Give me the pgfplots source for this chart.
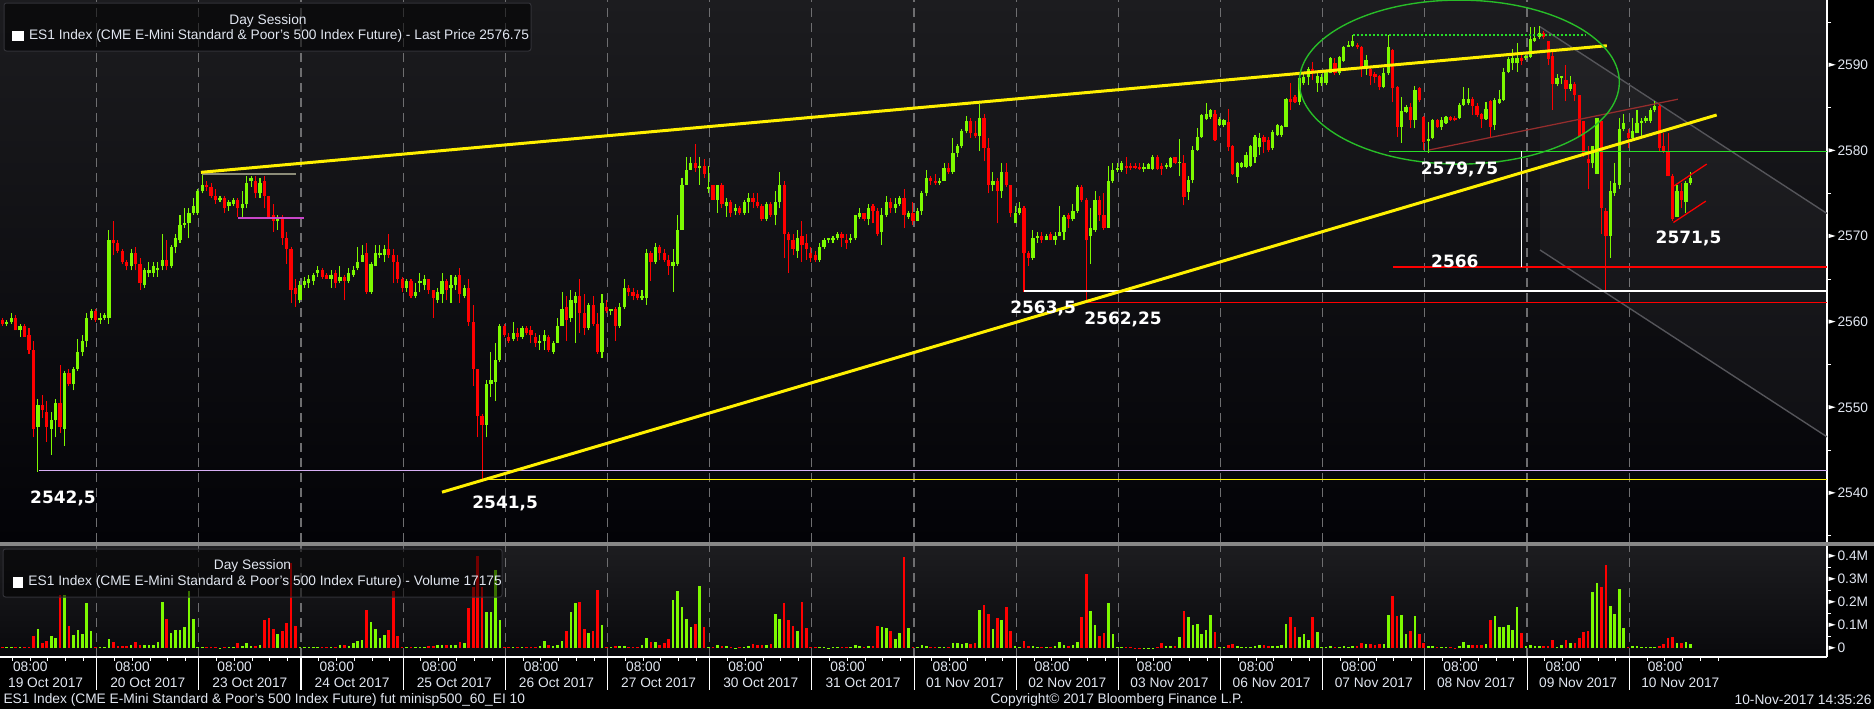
\documentclass[border=0pt]{standalone}
\usepackage{fontspec}
\setmainfont{Liberation Sans}
\newfontfamily\lblfont{DejaVu Sans}
\usepackage{pgfplots}
\usepackage{pgfplotstable}
\pgfplotsset{compat=1.18}
\definecolor{cgreen}{RGB}{125,250,0}
\definecolor{cred}{RGB}{255,0,0}
\definecolor{bgtop}{RGB}{28,28,31}
\definecolor{bgbot}{RGB}{3,3,7}
\definecolor{vbgtop}{RGB}{29,29,32}
\definecolor{vbgbot}{RGB}{9,9,12}
\definecolor{gridgray}{RGB}{110,110,112}
\definecolor{lbl}{RGB}{225,230,240}
\definecolor{yel}{RGB}{255,240,0}
\definecolor{lav}{RGB}{215,175,245}
\definecolor{lgreen}{RGB}{40,220,40}
\definecolor{egreen}{RGB}{40,190,40}
\definecolor{chgray}{RGB}{85,85,90}
\definecolor{dred}{RGB}{150,45,45}
\definecolor{olive}{RGB}{140,140,120}
\definecolor{mag}{RGB}{200,70,200}
\definecolor{sepgray}{RGB}{135,135,135}
\definecolor{legborder}{RGB}{50,50,56}
\newcommand\sz{\fontsize{5.5}{6.4}\selectfont}
\newcommand\tri{\tikz[baseline=-0.36em]\fill[white] (0pt,-0.85pt)--(2.8pt,0pt)--(0pt,0.85pt)--cycle;\kern0.8pt}
\newcommand\blab[1]{{\lblfont\bfseries\fontsize{6.8}{8}\selectfont #1}}

\pgfplotstableread{
j o h l c v
1 2560.25 2560.5 2559.5 2559.75 4
2 2559.75 2560.25 2559.5 2560 3
3 2560 2561 2559.75 2560.5 4
4 2560.5 2560.75 2559 2559 4
5 2559 2559.75 2558.25 2559.5 4
6 2559.5 2559.75 2558.25 2558.25 6
7 2558.5 2559.25 2556.25 2556.75 6
8 2556.75 2557.75 2546.5 2547.5 51
9 2547.75 2551 2542.5 2550.25 81
10 2550.25 2551.5 2548.75 2549.75 22
11 2549.5 2550.75 2546 2547.75 29
12 2547.5 2549.5 2544.5 2548.5 51
13 2548.5 2551 2546.5 2550.5 42
14 2550.5 2555 2547 2547.75 232
15 2547.5 2554.25 2545.5 2554 229
16 2554 2554.5 2552.5 2552.75 94
17 2552.75 2554.75 2552 2554.5 55
18 2554.5 2558 2554.25 2556.5 77
19 2556.5 2558.5 2556 2557.75 61
20 2557.75 2561 2557 2560.5 194
21 2560.5 2561.5 2560.25 2561.25 72
22 2561.25 2561.5 2560 2560.25 3
23 2560.25 2561 2559.75 2560.5 3
24 2560.5 2561 2560.25 2560.75 3
25 2560.5 2570.75 2559.75 2569.5 38
26 2569.5 2571.75 2567.75 2569.25 25
27 2569.25 2569.5 2568 2568.25 7
28 2568.25 2568.5 2566.75 2567 7
29 2567 2567.25 2566 2566.5 7
30 2566.5 2568.5 2566 2568 12
31 2568 2568.75 2566 2566.75 25
32 2566.75 2567.5 2563.75 2564.5 15
33 2564.25 2566.25 2564 2566 12
34 2565.75 2567 2565.25 2566 12
35 2565.75 2567 2565.25 2566.5 12
36 2566 2567 2565.25 2566.25 25
37 2566.5 2570.25 2566 2567.25 199
38 2567.25 2569.5 2566 2566.5 125
39 2566.5 2569 2566.25 2568.75 64
40 2568.75 2570.25 2568 2569.75 77
41 2569.5 2572.5 2569.25 2571.25 77
42 2571.25 2573.25 2571 2571.5 90
43 2571.5 2573.25 2569.75 2572.75 246
44 2572.75 2574.5 2572.5 2573.5 125
45 2572.75 2575.5 2572.5 2575.25 5
46 2575.25 2577.5 2575 2576 4
47 2576 2576.5 2575.25 2575.75 6
48 2575.75 2576.25 2574.5 2574.75 6
49 2574.75 2575.5 2573.75 2574.25 3
50 2574.25 2574.75 2574 2574.5 2
51 2574.5 2574.75 2572.75 2573.25 3
52 2573.5 2574.25 2573 2574 3
53 2573.75 2574.5 2573.5 2574.25 3
54 2574.25 2574.5 2572.25 2573.25 20
55 2573.25 2575.25 2572.25 2573.75 10
56 2573.75 2577 2573.25 2576.25 20
57 2576.5 2577 2575.75 2576.75 7
58 2576.5 2577 2574.5 2575 10
59 2575 2576.75 2574.5 2576.25 12
60 2576.5 2577 2573.25 2574.75 120
61 2574.75 2574.75 2572.25 2572.25 129
62 2572.5 2573.75 2570.5 2571.75 84
63 2571.75 2572.5 2570.75 2572 59
64 2572.25 2572.5 2569 2569.75 75
65 2569.75 2570.5 2566.75 2568.5 107
66 2568.5 2568.75 2562.25 2563.75 368
67 2564 2565 2561.75 2563.25 94
68 2562.5 2564.75 2562.25 2564.25 3
69 2564.25 2565.25 2564 2564.75 6
70 2564.5 2565.5 2564 2565 6
71 2564.75 2565.75 2564.25 2565.5 3
72 2565.75 2566.5 2565.25 2566 3
73 2566 2566.25 2565 2565.25 3
74 2565.5 2565.75 2565 2565 3
75 2565 2566 2564 2565.5 6
76 2565.75 2566 2564 2564.5 6
77 2564.75 2566.5 2564.5 2565.25 15
78 2565.25 2565.5 2562.5 2564.75 15
79 2564.75 2566.25 2564.5 2565.75 10
80 2565.5 2566.5 2565.25 2566 20
81 2566.25 2568.75 2566 2567 29
82 2567 2569 2567 2567.75 33
83 2568 2569.25 2563.25 2563.5 167
84 2563.5 2567 2563.25 2566.75 113
85 2566.5 2569 2566.5 2568 84
86 2567.75 2569 2567.5 2568 42
87 2567.75 2569 2567 2568.5 55
88 2568.5 2570.25 2567.5 2567.75 77
89 2567.75 2568.5 2564.5 2567 249
90 2567 2567.75 2564.5 2565 54
91 2565 2565.25 2563.5 2564 3
92 2564 2565 2563.5 2564.75 3
93 2564.75 2565 2562.75 2563 3
94 2563 2564.5 2562.75 2563.5 4
95 2564.5 2565.75 2563.5 2564.75 3
96 2564.25 2565.5 2563.75 2565 3
97 2565 2565 2563.25 2563.75 9
98 2563.75 2563.75 2560.5 2562.75 9
99 2562.5 2564 2562.25 2563.5 15
100 2563.25 2565.75 2562.25 2564.75 15
101 2564.75 2565 2562.5 2563.75 15
102 2564 2565.5 2562.25 2564.25 15
103 2564.25 2565.5 2563.75 2565.25 15
104 2565.5 2566.25 2562.25 2563.25 25
105 2563 2564.25 2562.75 2564 20
106 2564 2565 2559.5 2560 174
107 2560 2562 2552.5 2554.5 267
108 2554.5 2554.5 2546.5 2549 400
109 2549 2549.25 2541.5 2548 267
110 2548 2553.25 2546.5 2552.75 158
111 2552.75 2556.5 2551.25 2553.25 158
112 2553 2557.5 2550.75 2555.5 340
113 2555.5 2559.75 2555.25 2559.5 120
114 2559.5 2559.75 2558.25 2558.5 3
115 2558.25 2558.75 2557.5 2557.75 3
116 2558 2560 2557.75 2558.75 3
117 2558.75 2559.25 2557.75 2558.25 3
118 2558.25 2559.5 2558 2559.25 3
119 2559.25 2559.5 2558.5 2558.75 3
120 2559 2559.5 2557.5 2558.5 3
121 2558.25 2558.75 2557 2557.5 3
122 2557.5 2558.5 2556.75 2557.75 7
123 2557.75 2559 2556.75 2558.5 29
124 2558.25 2558.5 2556.5 2556.75 12
125 2556.5 2557.75 2556.25 2557.5 7
126 2557.5 2560.5 2557.5 2559.5 12
127 2559.5 2563.5 2559.5 2561.5 29
128 2561.75 2563 2557.75 2560.25 72
129 2560.5 2563.75 2560 2562.5 155
130 2562.25 2563.5 2557.5 2563 194
131 2563 2565 2558.75 2561 199
132 2561 2563.25 2558.5 2559.25 84
133 2559.25 2562.25 2559 2562 64
134 2562 2563 2559.5 2559.75 72
135 2559.75 2561 2556.25 2556.5 251
136 2556.5 2563.25 2555.75 2562.25 101
137 2561.75 2562.5 2561 2561.25 3
138 2561.25 2561.5 2560.75 2561.5 3
139 2561.5 2561.75 2557.75 2559.5 7
140 2559.5 2562.25 2559.25 2561.75 7
141 2561.75 2565 2561.5 2564 7
142 2564 2564.25 2563 2563.5 3
143 2563.5 2564 2562.5 2563 3
144 2563.25 2563.75 2562.5 2562.75 3
145 2562.75 2563.75 2562.5 2563 12
146 2562.75 2568.5 2562 2568 42
147 2568 2568.25 2564.75 2567 25
148 2567 2569.25 2566.75 2568.75 25
149 2568.75 2569 2567.25 2568 12
150 2568 2568.5 2567 2567.25 20
151 2567.25 2567.75 2565.5 2566.5 38
152 2566.5 2568.5 2563.5 2567 207
153 2566.75 2572.5 2566.5 2570.75 246
154 2570.75 2576.75 2570.75 2576 177
155 2576 2579.25 2576 2577.75 125
156 2577.75 2579.25 2577.75 2578.5 90
157 2578.5 2580.75 2577.5 2578 103
158 2578 2579.25 2576 2578.25 268
159 2578.25 2579 2576.75 2577.25 90
160 2575.5 2578.25 2575 2575.75 6
161 2576 2576 2574.25 2574.25 3
162 2574.25 2576 2572.75 2576 12
163 2576 2576.25 2573.25 2573.75 7
164 2573.5 2574.5 2572.25 2574 7
165 2574 2574.25 2572.25 2572.75 3
166 2573 2573.75 2572.5 2573.25 2
167 2573.25 2573.5 2572.5 2572.75 3
168 2572.75 2574.25 2572.5 2574 3
169 2574 2575 2572.75 2574.5 7
170 2574.5 2575 2573.25 2574 16
171 2574 2575 2573.25 2573.5 12
172 2573.5 2573.75 2571.75 2572 12
173 2572 2574 2571.75 2573.75 12
174 2573.75 2574 2572.25 2572.5 16
175 2572.5 2575.25 2571.25 2574 146
176 2574 2577.5 2573.25 2576 125
177 2576 2576.5 2567.5 2570.25 194
178 2570.25 2570.5 2565.75 2569.5 120
179 2569.5 2570.25 2567.75 2568.5 94
180 2568.25 2570.75 2567.5 2569.75 72
181 2570 2571.75 2567 2569 199
182 2569.25 2570.25 2567.25 2568.5 86
183 2568 2568.75 2567 2567.5 3
184 2567.75 2568.25 2567 2567.25 3
185 2567.25 2569.25 2567 2568.75 3
186 2568.75 2569.75 2568.5 2569.5 3
187 2569.5 2569.75 2569.25 2569.75 2
188 2569.5 2570 2569.25 2569.75 3
189 2569.75 2570.5 2569.5 2570.25 3
190 2570.25 2570.5 2568.75 2569.75 3
191 2569.5 2570.25 2568.5 2569.25 3
192 2569.5 2570.25 2569.25 2569.75 3
193 2569.75 2572.5 2569.5 2572.5 12
194 2572.25 2573.25 2572 2572.75 7
195 2572.75 2572.75 2571.75 2572 3
196 2572 2573.75 2571.25 2573.25 7
197 2573.5 2573.75 2571.5 2573 7
198 2573 2573.25 2570 2570.25 94
199 2570.5 2573.25 2569 2572.5 90
200 2572.5 2574.75 2572.25 2574 86
201 2574 2574.5 2572.75 2573.25 72
202 2573.25 2574.5 2572.75 2573.75 38
203 2573.75 2574.75 2573.5 2574.5 64
204 2574.5 2575.5 2571 2572.5 394
205 2572.25 2573 2572 2572.75 86
206 2572.75 2574 2571.25 2571.75 6
207 2571.75 2573.25 2571.75 2573 3
208 2573 2575.25 2572.5 2575 12
209 2575 2577.75 2574.75 2576.75 7
210 2576.75 2577 2576 2576.5 3
211 2576.5 2577.25 2576 2576.25 3
212 2576.25 2576.75 2576 2576.5 3
213 2576.5 2578.5 2576.5 2578 3
214 2578 2578.5 2577.25 2577.5 3
215 2577.5 2581.5 2577.25 2579.75 20
216 2579.75 2580.75 2579.25 2580.5 20
217 2580.5 2582.5 2580.25 2582.25 16
218 2582.25 2584 2582 2583.5 20
219 2583.5 2583.75 2581.5 2582 16
220 2582 2583.5 2581.5 2581.75 20
221 2581.75 2585.5 2580 2583.75 164
222 2583.75 2584.25 2578.75 2580.25 186
223 2580.25 2581.5 2575 2576 146
224 2576 2577.5 2575.25 2576.5 81
225 2576.5 2576.75 2571.5 2575.25 129
226 2575.25 2578.5 2574.5 2577.5 120
227 2577.5 2578.5 2575.75 2576 177
228 2576 2576 2572.25 2572.75 72
229 2571.5 2573.5 2571.5 2572.75 7
230 2572.75 2574 2572.5 2573.25 3
231 2573.25 2573.5 2563.5 2568 29
232 2568 2568.25 2566.5 2567.5 7
233 2567.5 2570.75 2567.25 2569.75 7
234 2569.75 2570.5 2569.25 2570 3
235 2570 2570.5 2569.25 2569.5 3
236 2569.5 2570.25 2569.5 2570 3
237 2570.25 2570.5 2569.5 2569.5 3
238 2569.5 2570.5 2569 2570 7
239 2570 2573.5 2570 2570.5 25
240 2570.5 2572.5 2569.5 2572.25 12
241 2572.5 2572.75 2571 2572 7
242 2572 2573.75 2571.75 2573 12
243 2573 2576 2572.75 2575.75 25
244 2575.75 2576 2574 2574.25 133
245 2574.25 2574.5 2562.25 2569.5 320
246 2570 2573.25 2566.75 2571 160
247 2570.75 2575.25 2570.5 2574.25 99
248 2574.25 2574.75 2571.75 2572.5 51
249 2572.5 2575 2570.75 2571 64
250 2571 2578.25 2571 2576.5 194
251 2576.5 2578.5 2576.25 2577.75 59
252 2577.75 2578.5 2577.5 2578 3
253 2577.75 2578.75 2577.5 2578.5 3
254 2578.25 2579.25 2577.25 2578 3
255 2578.25 2578.5 2577.75 2578 3
256 2578.25 2578.5 2577.9 2578 2
257 2578 2578.5 2577.75 2577.9 2
258 2577.9 2578.5 2577.5 2578.1 2
259 2577.9 2578.5 2577.8 2578.4 2
260 2577.9 2579.5 2577.75 2579.3 2
261 2579.3 2579.5 2577.75 2577.9 3
262 2578.25 2578.5 2577.15 2577.9 20
263 2578.1 2578.5 2577.9 2578.3 7
264 2578.1 2579.3 2578 2579.1 7
265 2579.2 2579.3 2578.4 2578.5 7
266 2578.5 2581.4 2577 2578.6 46
267 2578.5 2579.5 2573.6 2574.6 160
268 2575.2 2577 2574.2 2576.55 133
269 2576.6 2580.5 2576.2 2580.07 99
270 2580.07 2582.6 2579.9 2581.6 103
271 2581.6 2584.3 2581.5 2584.16 59
272 2583.65 2585.5 2583.57 2584.28 77
273 2583.96 2584.9 2583.7 2584.74 142
274 2584.28 2584.74 2581.16 2581.24 68
275 2582.99 2583.9 2582.87 2583.73 3
276 2583 2583.7 2582.8 2583.57 3
277 2583.34 2584.82 2580 2580.38 12
278 2580.54 2580.65 2577.15 2577.27 16
279 2576.96 2578.71 2576.18 2578.51 7
280 2578.12 2578.7 2578 2578.59 3
281 2578.12 2579.88 2577.93 2579.49 3
282 2578.2 2580.65 2578.1 2580.54 3
283 2579.29 2581.82 2578.51 2581.63 7
284 2580.46 2582.02 2579.49 2581.43 12
285 2581.63 2581.82 2579.68 2581.04 12
286 2581.24 2581.63 2579.88 2580.07 7
287 2580.27 2582.41 2580.07 2582.21 7
288 2581.82 2583.11 2581.7 2582.99 7
289 2581.82 2583 2581.6 2582.87 12
290 2582.8 2586.1 2582.72 2585.99 103
291 2585.99 2587.86 2584.74 2585.72 133
292 2586.3 2586.5 2585.5 2585.72 90
293 2585.72 2588.83 2585.33 2588.44 46
294 2587.86 2589.22 2587.66 2588.64 59
295 2588.56 2589.8 2587.66 2589.5 33
296 2589.5 2590.39 2588.25 2589.03 133
297 2587.86 2589.03 2586.88 2588.72 68
298 2587.86 2588.9 2587.6 2588.64 3
299 2587.86 2589.42 2587.66 2589.22 3
300 2589.1 2590.9 2589.03 2590.78 7
301 2590.2 2590.78 2588.83 2589.03 3
302 2589.03 2591.05 2588.83 2590.9 3
303 2590.51 2592.22 2590.39 2592.14 7
304 2592.14 2592.84 2592.1 2592.34 3
305 2592.22 2593.5 2592.14 2592.84 7
306 2592.34 2592.6 2591.9 2592.06 7
307 2592.14 2592.22 2588.64 2589.61 20
308 2589.61 2591.17 2588.83 2590.58 16
309 2589.5 2589.61 2587.66 2588.72 16
310 2588.9 2589.22 2587.86 2588.64 12
311 2588.72 2588.83 2587.08 2587.47 16
312 2587.47 2589.61 2587.27 2589.03 16
313 2589.03 2593.5 2588.83 2592.06 142
314 2591.75 2591.83 2585.72 2587.27 225
315 2587.47 2587.55 2581.63 2582.8 138
316 2582.8 2586.3 2580.93 2584.66 142
317 2584.55 2585.33 2584.35 2585.06 59
318 2585.06 2585.52 2582.6 2583.57 72
319 2583.57 2587.55 2582.6 2587.08 138
320 2587.27 2587.47 2585.72 2585.91 59
321 2583.96 2584.04 2580.07 2581.04 20
322 2581.16 2583.38 2579.75 2581.36 7
323 2581.43 2583.65 2581.32 2583.57 7
324 2583.57 2583.65 2582.6 2582.8 3
325 2582.72 2583.96 2582.41 2583.57 3
326 2583.26 2584.04 2583.11 2583.96 3
327 2583.89 2584 2583.4 2583.57 3
328 2583.85 2584 2583.4 2583.57 2
329 2583.77 2585.52 2583.65 2585.33 7
330 2585.33 2587.47 2585.21 2585.99 25
331 2585.52 2587.27 2585.33 2585.99 12
332 2585.99 2586.3 2584.16 2585.21 12
333 2585.21 2585.52 2583.96 2584.16 12
334 2584.28 2584.43 2582.6 2583.65 12
335 2583.65 2585.72 2583.57 2584.82 16
336 2585.83 2585.91 2581.63 2582.8 120
337 2582.99 2586.1 2582.41 2585.91 138
338 2585.52 2587.08 2585.44 2586.03 90
339 2585.91 2589.61 2585.83 2589.22 90
340 2589.22 2590.97 2589.03 2590.66 99
341 2590.2 2591.83 2589.42 2590.78 77
342 2590.2 2592.53 2589.22 2590.78 177
343 2590.78 2591.56 2590 2590.51 64
344 2590.78 2591.2 2590.6 2591.05 7
345 2590.97 2594.48 2590.78 2593 12
346 2592.84 2594.48 2592.7 2593.12 7
347 2593.25 2594.5 2593 2593.75 7
348 2593.75 2594 2593 2593.25 7
349 2592.75 2592.75 2590 2590.75 7
350 2591 2591.5 2584.75 2587.75 33
351 2587.75 2589 2587.5 2588.5 3
352 2588.5 2588.75 2587.75 2588.75 12
353 2588.25 2590 2585.75 2587.25 33
354 2587.25 2588.75 2587 2587.75 20
355 2587.75 2588 2585.75 2586.5 20
356 2586.5 2586.5 2581.75 2581.75 42
357 2583.5 2583.5 2579.25 2579.5 68
358 2579 2580.5 2575.5 2578.5 72
359 2578.5 2580.5 2578 2580.5 242
360 2577.25 2583.75 2577.25 2583.75 281
361 2583.5 2583.5 2570.25 2573.25 264
362 2573 2573.25 2563.5 2570 360
363 2570 2576.5 2567.5 2575.25 181
364 2575 2578.5 2574.75 2576.25 146
365 2576 2583.75 2575.5 2582.5 255
366 2582.5 2584.25 2582.25 2583.25 86
367 2582 2582.5 2580.25 2581.5 6
368 2581.5 2583.75 2581.25 2582.25 7
369 2582 2584.75 2582 2583.25 7
370 2583.25 2583.75 2581.5 2583.5 3
371 2583.5 2584 2583.25 2583.75 3
372 2583.5 2585 2583.25 2584.75 3
373 2584.75 2585.75 2584.5 2585.25 3
374 2585.25 2585.5 2580 2580.25 7
375 2580.5 2582 2579.75 2580 16
376 2580 2582 2577 2577 42
377 2577 2577.25 2571.75 2572 46
378 2572.25 2576 2572.25 2575.25 20
379 2575.25 2576.25 2573.25 2574.25 20
380 2574 2576.5 2572.75 2576.25 25
381 2576.25 2577.5 2576 2576.75 16
}\candles

\pgfplotsset{
  bb/.style={
    scale only axis, width=730.8pt,
    xmin=0.473, xmax=411.78,
    axis x line*=bottom, axis y line*=right,
    axis line style={draw=white, line width=0.5pt},
    tick align=outside,
    major tick length=0pt, minor tick length=1.6pt,
    minor tick style={draw=white, line width=0.4pt},
    xtick={22.24,45.24,...,368}, xticklabels={},
    xmajorgrids,
    major grid style={draw=gridgray, line width=0.45pt, dash pattern=on 3.6pt off 2.4pt},
    yticklabel style={anchor=west, inner sep=0pt, xshift=0.4pt, font=\sz, text=lbl},
  },
  wick/.style={draw=none, mark=none, forget plot,
    error bars/y dir=plus, error bars/y explicit, error bars/error mark=none,
    error bars/error bar style={draw=#1, line width=0.42pt, solid}},
  body/.style={draw=none, mark=none, forget plot,
    error bars/y dir=plus, error bars/y explicit, error bars/error mark=none,
    error bars/error bar style={draw=#1, line width=1.3pt, solid}},
}

\begin{document}
\begin{tikzpicture}[x=0.4pt,y=0.4pt]
\fill[black] (0,0) rectangle (1874,709);

% ---------------- price panel ----------------
\begin{axis}[bb, at={(0pt,66.8pt)}, anchor=south west, height=216.8pt,
  ymin=2534.28, ymax=2597.59,
  x axis line style={draw=none},
  ytick={2540,2550,2560,2570,2580,2590},
  yticklabels={\tri2540,\tri2550,\tri2560,\tri2570,\tri2580,\tri2590},
  minor ytick={2535,2545,2555,2565,2575,2585,2595},
  axis background/.style={top color=bgtop, bottom color=bgbot},
]
% channel shading
\fill[white, opacity=0.035] (axis cs:347.16,2594.47) -- (axis cs:411.78,2572.65) -- (axis cs:411.78,2546.56) -- (axis cs:347.16,2568.39) -- cycle;
\addplot[chgray, line width=0.55pt, forget plot] coordinates {(347.16,2594.47) (411.78,2572.65)};
\addplot[chgray, line width=0.55pt, forget plot] coordinates {(347.16,2568.39) (411.78,2546.56)};

% wicks
\addplot[restrict y to domain=2500:2700, wick=cgreen] table[x=j, y expr={\thisrow{l}+1000*(\thisrow{c}<\thisrow{o})}, y error expr={\thisrow{h}-\thisrow{l}}] {\candles};
\addplot[restrict y to domain=2500:2700, wick=cred] table[x=j, y expr={\thisrow{l}+1000*(1-(\thisrow{c}<\thisrow{o}))}, y error expr={\thisrow{h}-\thisrow{l}}] {\candles};
% bodies
\addplot[restrict y to domain=2500:2700, body=cgreen] table[x=j, y expr={min(\thisrow{o},\thisrow{c})+1000*(\thisrow{c}<\thisrow{o})}, y error expr={max(abs(\thisrow{c}-\thisrow{o}),0.13)}] {\candles};
\addplot[restrict y to domain=2500:2700, body=cred] table[x=j, y expr={min(\thisrow{o},\thisrow{c})+1000*(1-(\thisrow{c}<\thisrow{o}))}, y error expr={max(abs(\thisrow{c}-\thisrow{o}),0.13)}] {\candles};

% horizontal levels
\addplot[lav, line width=0.45pt, forget plot] coordinates {(9.25,2542.6) (411.78,2542.6)};
\addplot[yel, line width=0.45pt, forget plot] coordinates {(109,2541.6) (411.78,2541.6)};
\addplot[white, line width=0.5pt, forget plot] coordinates {(231.1,2563.6) (411.78,2563.6)};
\addplot[cred, line width=0.5pt, forget plot] coordinates {(245.2,2562.28) (411.78,2562.28)};
\addplot[cred, line width=0.5pt, forget plot] coordinates {(314.1,2566.4) (411.78,2566.4)};
\addplot[lgreen, line width=0.5pt, forget plot] coordinates {(313.2,2579.9) (411.78,2579.9)};
\addplot[white, line width=0.5pt, forget plot] coordinates {(342.95,2566.4) (342.95,2579.9)};
\addplot[olive, line width=0.8pt, forget plot] coordinates {(46.0,2577.27) (67.0,2577.27)};
\addplot[mag, line width=0.5pt, forget plot] coordinates {(54.05,2572.13) (68.8,2572.13)};
\addplot[lgreen, line width=0.45pt, dash pattern=on 0.8pt off 0.8pt, forget plot] coordinates {(305.1,2593.5) (357.5,2593.5)};
\addplot[dred, line width=0.5pt, forget plot] coordinates {(322.2,2580.07) (378.2,2586.0)};
\addplot[cred, line width=0.5pt, forget plot] coordinates {(377.33,2575.87) (384.7,2578.43)};
\addplot[cred, line width=0.5pt, forget plot] coordinates {(377.2,2571.6) (384.5,2574.1)};
% trend lines
\addplot[yel, line width=1.2pt, forget plot] coordinates {(45.72,2577.46) (362.2,2592.25)};
\addplot[yel, line width=1.2pt, forget plot] coordinates {(99.98,2540.1) (386.94,2584.16)};
% ellipse
\draw[egreen, line width=0.55pt] (axis cs:329,2588) ellipse [x radius=64pt, y radius=32.8pt];
% labels
\node[text=white] at (axis cs:14.65,2539.42) {\blab{2542,5}};
\node[text=white] at (axis cs:114.2,2538.83) {\blab{2541,5}};
\node[text=white] at (axis cs:235.3,2561.61) {\blab{2563,5}};
\node[text=white] at (axis cs:253.3,2560.33) {\blab{2562,25}};
\node[text=white] at (axis cs:329.05,2577.85) {\blab{2579,75}};
\node[text=white] at (axis cs:328.0,2567.1) {\blab{2566}};
\node[text=white] at (axis cs:380.6,2569.8) {\blab{2571,5}};
\end{axis}

% ---------------- volume panel ----------------
\begin{axis}[bb, at={(0pt,20.8pt)}, anchor=south west, height=44.4pt,
  ymin=-39.1, ymax=443.5,
  ytick={0,100,200,300,400},
  yticklabels={\tri0,\tri0.1M,\tri0.2M,\tri0.3M,\tri0.4M},
  minor ytick={50,150,250,350},
  axis background/.style={top color=vbgtop, bottom color=vbgbot},
]
\addplot[ycomb, mark=none, draw=cgreen, line width=1.05pt, restrict y to domain=-1:1000] table[x=j, y expr={\thisrow{v}+5000*(\thisrow{c}<\thisrow{o})}] {\candles};
\addplot[ycomb, mark=none, draw=cred, line width=1.05pt, restrict y to domain=-1:1000] table[x=j, y expr={\thisrow{v}+5000*(1-(\thisrow{c}<\thisrow{o}))}] {\candles};
\end{axis}

% separator
\fill[sepgray] (0,163) rectangle (1874,166.8);

% x-axis ticks and labels
\foreach \d in {0,...,16} {
  \pgfmathsetmacro\bx{-5.47+102.17*\d}
  \foreach \k in {1,...,5} {
    \pgfmathsetmacro\tx{\bx+17.77*\k}
    \draw[white, line width=0.4pt] (\tx,52) -- (\tx,48);
  }
}
\foreach \d in {1,...,16} {
  \pgfmathsetmacro\bx{-5.47+102.17*\d}
  \draw[white, line width=0.45pt] (\bx,52) -- (\bx,19);
}
\foreach \dt [count=\i from 0] in {19 Oct 2017,20 Oct 2017,23 Oct 2017,24 Oct 2017,25 Oct 2017,26 Oct 2017,27 Oct 2017,30 Oct 2017,31 Oct 2017,01 Nov 2017,02 Nov 2017,03 Nov 2017,06 Nov 2017,07 Nov 2017,08 Nov 2017,09 Nov 2017,10 Nov 2017} {
  \pgfmathsetmacro\ax{30.3+102.17*\i}
  \pgfmathsetmacro\dx{45.6+102.17*\i}
  \node[text=lbl, font=\sz, inner sep=0pt] at (\ax,42) {08:00};
  \node[text=lbl, font=\sz, inner sep=0pt] at (\dx,26) {\dt};
}

% legends
\filldraw[fill=black, fill opacity=0.55, draw=legborder, line width=0.4pt, rounded corners=1pt] (4,706) rectangle (531,658);
\node[text=lbl, font=\sz, inner sep=0pt] at (268,688.5) {Day Session};
\fill[white] (11.5,678.5) rectangle (23.5,668);
\node[text=lbl, font=\sz, inner sep=0pt, anchor=west] at (28.5,673) {ES1 Index (CME E-Mini Standard \& Poor's 500 Index Future) - Last Price 2576.75};

\filldraw[fill=black, fill opacity=0.55, draw=legborder, line width=0.4pt, rounded corners=1pt] (3,160) rectangle (502,112);
\node[text=lbl, font=\sz, inner sep=0pt] at (252.5,143) {Day Session};
\fill[white] (12.7,132) rectangle (23.3,121.5);
\node[text=lbl, font=\sz, inner sep=0pt, anchor=west] at (28,127) {ES1 Index (CME E-Mini Standard \& Poor's 500 Index Future) - Volume 17175};

% footer
\node[text=lbl, font=\sz, inner sep=0pt, anchor=west] at (3,9) {ES1 Index (CME E-Mini Standard \& Poor's 500 Index Future) fut minisp500\_60\_EI 10};
\node[text=lbl, font=\sz, inner sep=0pt] at (1117,9) {Copyright\textcopyright{} 2017 Bloomberg Finance L.P.};
\node[text=lbl, font=\sz, inner sep=0pt, anchor=east] at (1872,9) {10-Nov-2017 14:35:26};

\pgfresetboundingbox
\useasboundingbox (0,0) rectangle (1874,709);
\end{tikzpicture}
\end{document}
